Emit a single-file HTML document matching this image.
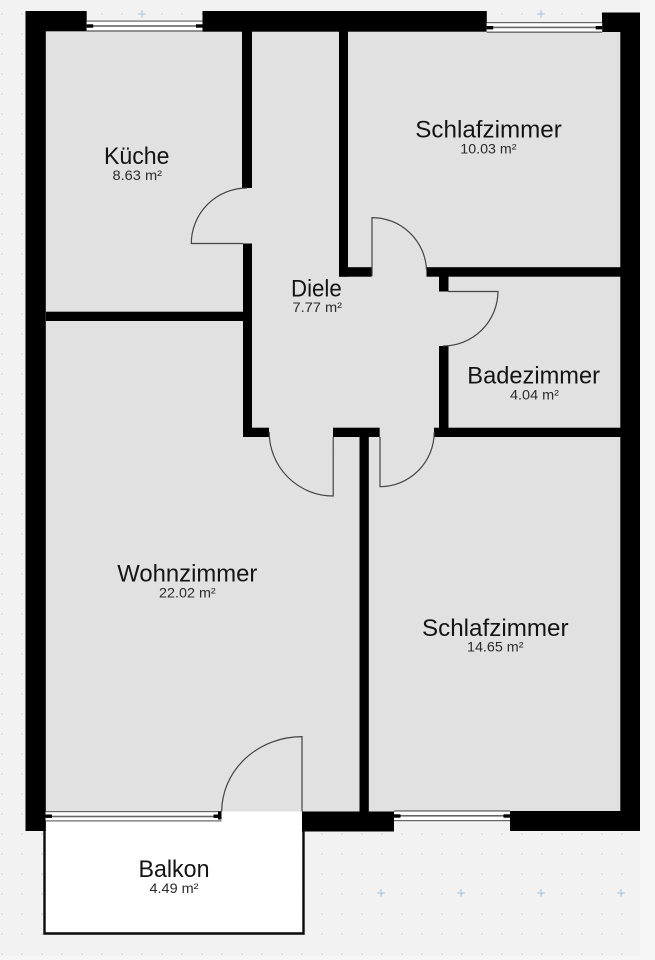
<!DOCTYPE html>
<html><head><meta charset="utf-8">
<style>html,body{margin:0;padding:0;background:#f2f2f2}svg{display:block}
text{font-family:"Liberation Sans",sans-serif;fill:#141414}
.a{font-size:24px}.b{font-size:13.5px;fill:#2a2a2a}</style></head>
<body>
<svg xmlns="http://www.w3.org/2000/svg" width="655" height="960" viewBox="0 0 655 960">
<defs>
<pattern id="d" x="1" y="13" width="20" height="20" patternUnits="userSpaceOnUse"><rect x="0.2" y="0.2" width="1.6" height="1.6" fill="#d2d4d6"/></pattern>
</defs>
<rect width="655" height="960" fill="#f2f2f2"/>
<rect x="640" width="15" height="960" fill="#f5f5f5"/>
<rect y="0" width="640" height="956" fill="url(#d)"/>
<rect y="956" width="655" height="4" fill="#f5f5f5"/>
<g stroke="#b4cbe2" stroke-width="1.2" fill="none">
<path d="M138 14h8M142 10v8M537 14h8M541 10v8M377 893h8M381 889v8M457 893h8M461 889v8M537 893h8M541 889v8M617 893h8M621 889v8"/>
</g>
<!-- floors -->
<rect x="40" y="26" width="585" height="790" fill="#e1e1e1"/>
<!-- balcony -->
<path d="M45 821H221.5V811.5H302V932.5H45Z" fill="#fff"/>
<path d="M44.5 821V933.5H303.5V831" fill="none" stroke="#0a0a0a" stroke-width="2.4"/>
<!-- walls -->
<g fill="#000">
<rect x="25.5" y="11" width="20.3" height="820"/>
<rect x="25.5" y="11" width="61.2" height="20.3"/>
<rect x="202.5" y="11" width="284.3" height="20.7"/>
<rect x="602" y="12.5" width="38" height="19.5"/>
<rect x="620.3" y="12.5" width="19.7" height="818.5"/>
<rect x="510" y="811" width="130" height="20"/>
<rect x="302" y="811.5" width="92" height="20"/>
<rect x="242" y="31" width="10" height="157"/>
<rect x="243" y="243.5" width="9" height="193.5"/>
<rect x="46" y="311.7" width="198" height="9.3"/>
<rect x="339" y="31" width="9" height="245.7"/>
<rect x="339" y="267.2" width="32.7" height="9.5"/>
<rect x="426.5" y="267.2" width="194" height="9.5"/>
<rect x="439" y="276" width="9.5" height="15.5"/>
<rect x="439" y="346" width="9.5" height="83"/>
<rect x="243" y="427.7" width="26" height="9.3"/>
<rect x="333" y="427.7" width="46.7" height="9.3"/>
<rect x="434" y="427.7" width="187" height="9.3"/>
<rect x="359.5" y="437" width="9.3" height="374.5"/>
</g>
<!-- windows -->
<g>
<rect x="86.7" y="21" width="115.8" height="10.5" fill="#fff"/>
<rect x="486.7" y="22.5" width="115.5" height="10" fill="#fff"/>
<rect x="394" y="811" width="116" height="10" fill="#fff"/>
<rect x="45.5" y="811.5" width="176" height="10" fill="#fff"/>
<g fill="#666">
<rect x="86.7" y="20.5" width="115.8" height="1.2"/><rect x="86.7" y="25.2" width="115.8" height="1.6"/><rect x="86.7" y="30.3" width="115.8" height="1.4"/>
<rect x="486.7" y="22" width="115.5" height="1.2"/><rect x="486.7" y="26.6" width="115.5" height="1.6"/><rect x="486.7" y="31.5" width="115.5" height="1.4"/>
<rect x="394" y="810.3" width="116" height="1.3"/><rect x="394" y="815" width="116" height="1.6"/><rect x="394" y="820" width="116" height="1.2"/>
<rect x="45.5" y="811" width="176" height="1.2"/><rect x="45.5" y="815.7" width="176" height="1.6"/><rect x="45.5" y="820.3" width="176" height="1.2"/>
</g>
<g fill="#000">
<rect x="86.7" y="24.3" width="6.5" height="3.4"/><rect x="196" y="24.3" width="6.5" height="3.4"/>
<rect x="486.7" y="26" width="6.5" height="3.4"/><rect x="595.7" y="26" width="6.5" height="3.4"/>
<rect x="394" y="814.3" width="6.5" height="3.4"/><rect x="503.5" y="814.3" width="6.5" height="3.4"/>
<rect x="45.5" y="814.5" width="6.5" height="3.4"/><rect x="213.5" y="814.5" width="8" height="3.4"/><rect x="218" y="811.5" width="3.5" height="8"/>
</g>
</g>
<!-- doors -->
<g fill="none" stroke="#444" stroke-width="1.2">
<path d="M247 188A56 55.5 0 0 0 191.3 243.5H243"/>
<path d="M372 276V217.6A54.5 54.5 0 0 1 426.5 270"/>
<path d="M448 291.5H498A55 55 0 0 1 443 346"/>
<path d="M333.2 437V496A64 64 0 0 1 269.2 432"/>
<path d="M380 437V486.7A54.5 54.5 0 0 0 434.2 432"/>
<path d="M302 811.5V736.6A80.5 75 0 0 0 221.7 811.5"/>
</g>
<!-- labels -->
<text class="a" x="104" y="164" textLength="65.5" lengthAdjust="spacingAndGlyphs">Küche</text>
<text class="b" x="112.5" y="180" textLength="49.5" lengthAdjust="spacingAndGlyphs">8.63 m²</text>
<text class="a" x="415.3" y="137.3" textLength="146.5" lengthAdjust="spacingAndGlyphs">Schlafzimmer</text>
<text class="b" x="460.3" y="153.5" textLength="56.2" lengthAdjust="spacingAndGlyphs">10.03 m²</text>
<text class="a" x="291" y="296.7" textLength="50.7" lengthAdjust="spacingAndGlyphs">Diele</text>
<text class="b" x="292.5" y="312" textLength="49.5" lengthAdjust="spacingAndGlyphs">7.77 m²</text>
<text class="a" x="467.3" y="383.3" textLength="132.7" lengthAdjust="spacingAndGlyphs">Badezimmer</text>
<text class="b" x="510" y="399.3" textLength="49" lengthAdjust="spacingAndGlyphs">4.04 m²</text>
<text class="a" x="117.3" y="581.7" textLength="140" lengthAdjust="spacingAndGlyphs">Wohnzimmer</text>
<text class="b" x="159" y="597.5" textLength="56.7" lengthAdjust="spacingAndGlyphs">22.02 m²</text>
<text class="a" x="422" y="636" textLength="146.5" lengthAdjust="spacingAndGlyphs">Schlafzimmer</text>
<text class="b" x="467" y="651.5" textLength="56.5" lengthAdjust="spacingAndGlyphs">14.65 m²</text>
<text class="a" x="138.5" y="877" textLength="71" lengthAdjust="spacingAndGlyphs">Balkon</text>
<text class="b" x="149.5" y="893" textLength="49" lengthAdjust="spacingAndGlyphs">4.49 m²</text>
</svg>
</body></html>
